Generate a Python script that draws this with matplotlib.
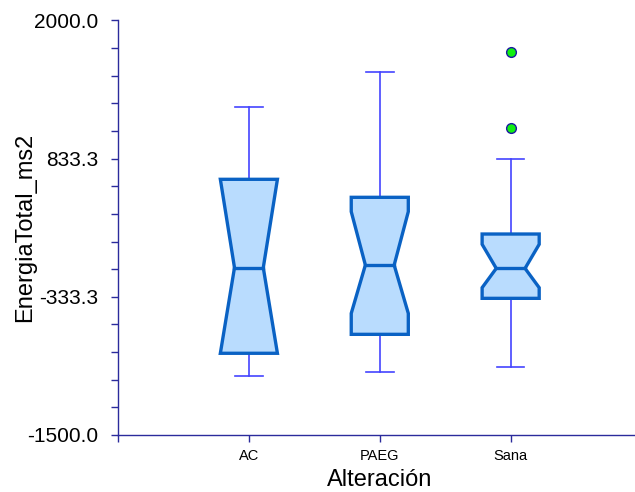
import matplotlib
matplotlib.use("Agg")
import matplotlib.pyplot as plt
from matplotlib.patches import Polygon
import numpy as np

plt.rcParams['font.family'] = ['Liberation Sans', 'DejaVu Sans']

categories = ["AC", "PAEG", "Sana"]
whisker_low = [-1002, -971, -923]
q1 = [-810, -650, -346]
notch_low = [-1000, -473, -256]
median = [-87, -65, -93]
notch_high = [900, 386, 110]
q3 = [659, 507, 197]
whisker_high = [1272, 1563, 828]
outliers = [[], [], [1731, 1090]]

y_major = [-1500.0, -333.3333, 833.3333, 2000.0]

axis_col = '#2b2b9c'
whisk_col = '#4444ff'
box_edge = '#0a62c4'
box_fill = '#b9dcfe'
out_col = '#11f011'

fig = plt.figure(figsize=(6.35, 4.92), dpi=100)
ax = fig.add_axes([118/635, (492-435)/492, (635-118)/635, (435-20.5)/492])

hw = 0.218   # box half width
nw = 0.11    # notch half width
cw = 0.105   # cap half width

for i, name in enumerate(categories):
    x = i + 1
    lo_n = max(notch_low[i], q1[i])
    hi_n = min(notch_high[i], q3[i])
    pts = [(x - hw, q3[i]), (x + hw, q3[i]), (x + hw, hi_n), (x + nw, median[i]),
           (x + hw, lo_n), (x + hw, q1[i]), (x - hw, q1[i]), (x - hw, lo_n),
           (x - nw, median[i]), (x - hw, hi_n)]
    ax.add_patch(Polygon(pts, closed=True, facecolor=box_fill, edgecolor=box_edge,
                         linewidth=2.4, joinstyle='miter', zorder=3))
    ax.plot([x - nw, x + nw], [median[i], median[i]], color=box_edge, lw=2.4, zorder=4)
    ax.plot([x, x], [q3[i], whisker_high[i]], color=whisk_col, lw=1.2, zorder=2)
    ax.plot([x, x], [q1[i], whisker_low[i]], color=whisk_col, lw=1.2, zorder=2)
    ax.plot([x - cw, x + cw], [whisker_high[i]] * 2, color=whisk_col, lw=1.2, zorder=2)
    ax.plot([x - cw, x + cw], [whisker_low[i]] * 2, color=whisk_col, lw=1.2, zorder=2)
    if outliers[i]:
        ax.plot([x] * len(outliers[i]), outliers[i], 'o', ms=7, mfc=out_col,
                mec='#1a1aa0', mew=1.0, zorder=5, clip_on=False)

ax.set_xlim(0, 3.95)
ax.set_ylim(-1500, 2000)
ax.set_xticks([0, 1, 2, 3])
ax.set_xticklabels(['', 'AC', 'PAEG', 'Sana'], fontsize=10.5)
ax.set_yticks(y_major)
ax.set_yticklabels([f"{v:.1f}" for v in y_major], fontsize=15)
ax.set_yticks(np.linspace(-1500, 2000, 16), minor=True)

for s in ['top', 'right']:
    ax.spines[s].set_visible(False)
for s in ['left', 'bottom']:
    ax.spines[s].set_color(axis_col)
    ax.spines[s].set_linewidth(1.0)
ax.tick_params(axis='both', which='both', color=axis_col, length=5, width=1.0, direction='out')
ax.tick_params(axis='y', which='major', pad=9)
ax.tick_params(axis='x', which='major', pad=5)

fig.text(25/635, 1 - 227/492, 'EnergiaTotal_ms2', rotation=90, ha='center', va='center', fontsize=17)
fig.text(380/635, 1 - 480/492, 'Alteración', ha='center', va='center', fontsize=17)

fig.savefig('out.png', dpi=100)
